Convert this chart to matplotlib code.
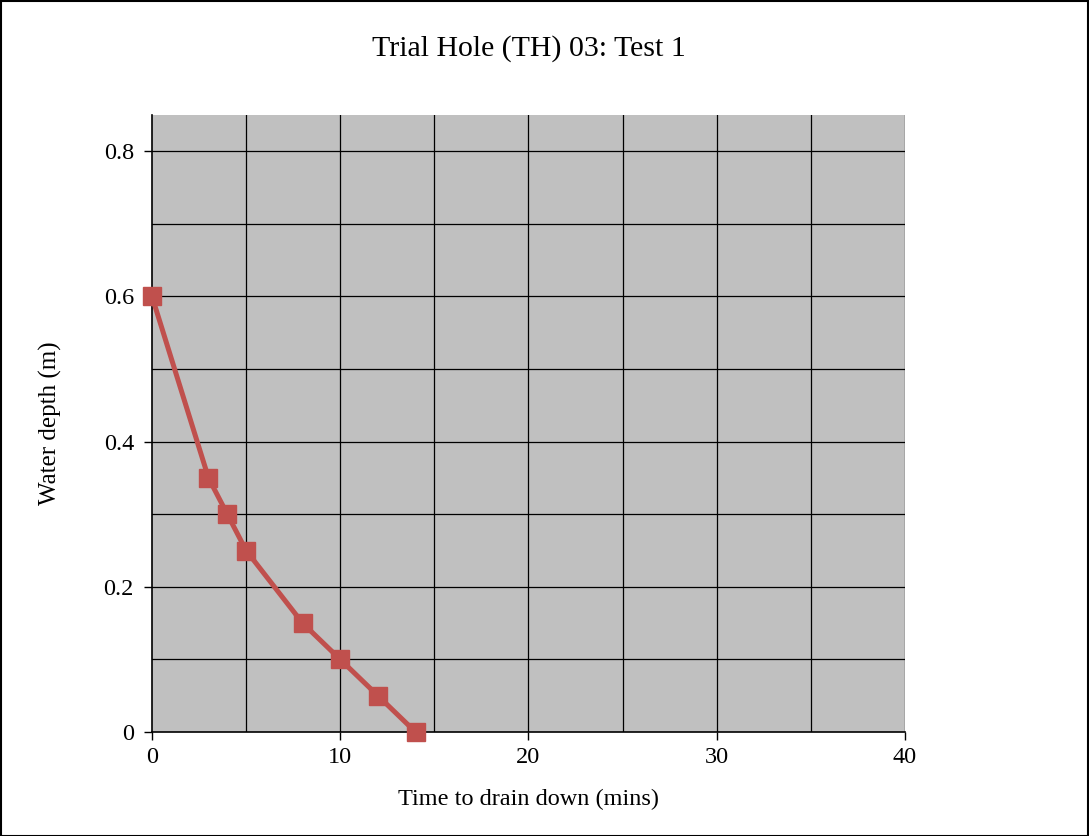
import matplotlib.pyplot as plt
from matplotlib.patches import Rectangle
import numpy as np

time_mins = [0, 3, 4, 5, 8, 10, 12, 14]
depth_m = [0.6, 0.35, 0.3, 0.25, 0.15, 0.1, 0.05, 0.0]
x_ticks = [0, 10, 20, 30, 40]
y_ticks = [0, 0.2, 0.4, 0.6, 0.8]

plt.rcParams['font.family'] = ['Liberation Serif', 'DejaVu Serif']

fig = plt.figure(figsize=(10.89, 8.36), dpi=100)
fig.patches.append(Rectangle((0.001, 0.0), 0.998, 0.999, transform=fig.transFigure,
                             fill=False, edgecolor='black', linewidth=1.5))
ax = fig.add_axes([0.1396, 0.1244, 0.6914, 0.738])
ax.set_facecolor('#C0C0C0')

ax.set_xlim(0, 40)
ax.set_ylim(0, 0.85)
for gx in np.arange(5, 45, 5):
    ax.axvline(gx, color='black', linewidth=0.9, zorder=1)
for gy in np.arange(0.1, 0.85, 0.1):
    ax.axhline(gy, color='black', linewidth=0.9, zorder=1)

ax.plot(time_mins, depth_m, color='#C0504D', linewidth=3.6, marker='s',
        markersize=13, zorder=3, clip_on=False)

ax.set_xticks(x_ticks)
ax.set_xticklabels([str(t) for t in x_ticks])
ax.set_yticks(y_ticks)
ax.set_yticklabels(['0', '0.2', '0.4', '0.6', '0.8'])
ax.tick_params(axis='both', direction='out', length=6, width=1, labelsize=17.5,
               color='black')
ax.tick_params(axis='x', pad=5)
ax.tick_params(axis='y', pad=7)

for side in ['top', 'right']:
    ax.spines[side].set_visible(False)
for side in ['left', 'bottom']:
    ax.spines[side].set_linewidth(1.2)

ax.set_title('Trial Hole (TH) 03: Test 1', fontsize=21.5, pad=43)
ax.set_xlabel('Time to drain down (mins)', fontsize=17.5, labelpad=15)
ax.set_ylabel('Water depth (m)', fontsize=18, labelpad=30)

fig.savefig('out.png', dpi=100)
